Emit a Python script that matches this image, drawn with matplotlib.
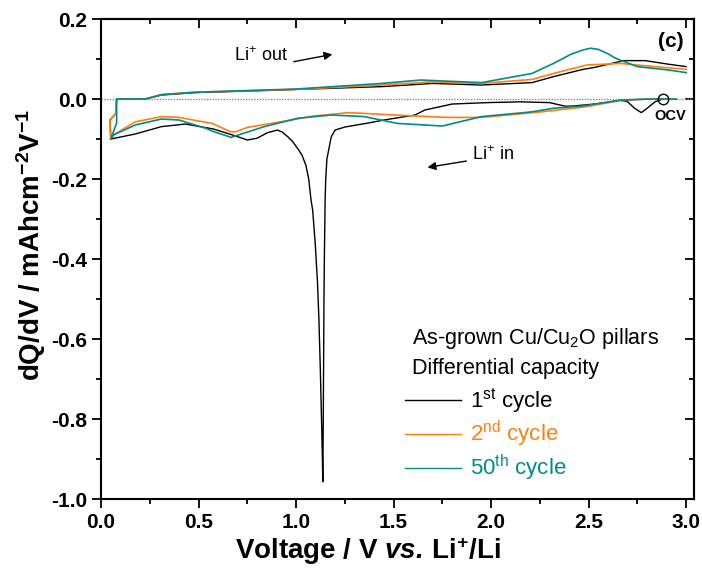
import matplotlib
matplotlib.use("Agg")
import matplotlib.pyplot as plt
from matplotlib.ticker import MultipleLocator
import numpy as np

plt.rcParams['font.family'] = ['Liberation Sans', 'DejaVu Sans']
plt.rcParams['mathtext.fontset'] = 'custom'
plt.rcParams['mathtext.rm'] = 'Liberation Sans'
plt.rcParams['mathtext.it'] = 'Liberation Sans:italic'
plt.rcParams['mathtext.bf'] = 'Liberation Sans:bold'
plt.rcParams['mathtext.bfit'] = 'Liberation Sans:bold:italic'

# 1st cycle: discharge from OCV (lithiation) then charge (delithiation)
c1_dis_v = [2.88, 2.84, 2.80, 2.77, 2.735, 2.70, 2.665, 2.60, 2.53, 2.42, 2.38, 2.30, 2.15, 1.98,
            1.80, 1.66, 1.61, 1.45, 1.37, 1.25, 1.20, 1.18, 1.168, 1.158, 1.152, 1.149, 1.145,
            1.143, 1.140, 1.138, 1.137, 1.135, 1.132, 1.124, 1.117, 1.11, 1.098, 1.085, 1.076,
            1.065, 1.05, 1.03, 1.01, 0.98, 0.957, 0.93, 0.905, 0.854, 0.80, 0.75, 0.70, 0.577,
            0.433, 0.31, 0.175, 0.05]
c1_dis_q = [0.0, -0.007, -0.023, -0.034, -0.023, -0.007, -0.003, -0.008, -0.0125, -0.0175, -0.018,
            -0.009, -0.007, -0.009, -0.0125, -0.0275, -0.04, -0.0525, -0.06, -0.07, -0.0775, -0.095,
            -0.125, -0.15, -0.20, -0.25, -0.40, -0.50, -0.75, -0.90, -0.957, -0.90, -0.835, -0.67,
            -0.55, -0.46, -0.36, -0.2775, -0.25, -0.20, -0.165, -0.14, -0.125, -0.105, -0.094,
            -0.083, -0.0775, -0.084, -0.098, -0.1025, -0.094, -0.075, -0.0625, -0.069, -0.0875,
            -0.10]
c1_chg_v = [0.05, 0.046, 0.076, 0.08, 0.227, 0.31, 0.485, 0.92, 1.0, 1.44, 1.70, 1.95, 2.21, 2.32,
            2.47, 2.53, 2.68, 2.79, 2.91, 3.0]
c1_chg_q = [-0.10, -0.0525, -0.036, 0.0, 0.0, 0.010, 0.016, 0.0225, 0.024, 0.031, 0.039, 0.035,
            0.041, 0.056, 0.074, 0.079, 0.096, 0.096, 0.087, 0.081]

# 2nd cycle
c2_dis_v = [2.95, 2.80, 2.66, 2.49, 2.24, 1.95, 1.78, 1.61, 1.27, 1.09, 0.92, 0.75, 0.69, 0.665,
            0.57, 0.40, 0.31, 0.175, 0.063, 0.05]
c2_dis_q = [0.0, 0.0, -0.004, -0.019, -0.033, -0.046, -0.046, -0.0425, -0.034, -0.0425, -0.057,
            -0.071, -0.082, -0.082, -0.061, -0.046, -0.044, -0.057, -0.09, -0.10]
c2_chg_v = [0.05, 0.046, 0.076, 0.08, 0.227, 0.31, 0.485, 1.0, 1.44, 1.70, 1.95, 2.21, 2.32, 2.49,
            2.66, 2.84, 3.0]
c2_chg_q = [-0.10, -0.0525, -0.036, 0.0, 0.0, 0.011, 0.017, 0.024, 0.035, 0.043, 0.039, 0.049,
            0.064, 0.085, 0.089, 0.081, 0.074]

# 50th cycle
c50_dis_v = [2.95, 2.80, 2.66, 2.47, 2.32, 2.21, 1.95, 1.75, 1.52, 1.35, 1.18, 1.01, 0.837, 0.665,
             0.656, 0.58, 0.536, 0.40, 0.31, 0.175, 0.063, 0.05]
c50_dis_q = [0.0, 0.0, -0.003, -0.0175, -0.023, -0.032, -0.044, -0.0675, -0.061, -0.044, -0.04,
             -0.048, -0.069, -0.096, -0.094, -0.082, -0.073, -0.0525, -0.05, -0.065, -0.09, -0.10]
c50_chg_v = [0.05, 0.08, 0.08, 0.227, 0.31, 0.485, 1.0, 1.44, 1.64, 1.95, 2.21, 2.32, 2.41, 2.47,
             2.51, 2.55, 2.60, 2.63, 2.66, 2.75, 2.91, 3.0]
c50_chg_q = [-0.10, -0.06, 0.0, 0.0, 0.011, 0.017, 0.025, 0.039, 0.0475, 0.041, 0.064, 0.089,
             0.112, 0.1225, 0.127, 0.124, 0.113, 0.104, 0.0975, 0.081, 0.0725, 0.066]

ocv_v, ocv_q = 2.88, 0.0

c_orange = '#ff7f0e'
c_teal = '#008b8b'

fig = plt.figure(figsize=(7.02, 5.73), dpi=100)
ax = fig.add_axes([0.1439, 0.1291, 0.8447, 0.8377])

ax.axhline(0, color='#888888', lw=1, ls=(0, (1, 1)), zorder=1)

ax.plot(c1_dis_v, c1_dis_q, color='black', lw=1, label='1$^{\\mathrm{st}}$ cycle')
ax.plot(c1_chg_v, c1_chg_q, color='black', lw=1)
ax.plot(c2_dis_v, c2_dis_q, color=c_orange, lw=1.2, label='2$^{\\mathrm{nd}}$ cycle')
ax.plot(c2_chg_v, c2_chg_q, color=c_orange, lw=1.2)
ax.plot(c50_dis_v, c50_dis_q, color=c_teal, lw=1.2, label='50$^{\\mathrm{th}}$ cycle')
ax.plot(c50_chg_v, c50_chg_q, color=c_teal, lw=1.2)

ax.plot([ocv_v], [ocv_q], 'o', mfc='none', mec='black', ms=7.5, mew=1)
ax.text(2.92, -0.042, 'OCV', fontsize=10.5, fontweight='bold', ha='center', va='center')
ax.text(2.92, 0.145, '(c)', fontsize=15, fontweight='bold', ha='center', va='center')

ax.text(0.822, 0.1075, 'Li$^{+}$ out', fontsize=13, ha='center', va='center')
ax.annotate('', xy=(1.20, 0.113), xytext=(0.974, 0.092),
            arrowprops=dict(arrowstyle='-|>', color='black', lw=1, mutation_scale=12))
ax.text(2.01, -0.14, 'Li$^{+}$ in', fontsize=13, ha='center', va='center')
ax.annotate('', xy=(1.66, -0.172), xytext=(1.887, -0.154),
            arrowprops=dict(arrowstyle='-|>', color='black', lw=1, mutation_scale=12))

# sample description above the cycle legend
ax.text(0.5245, 0.335, 'As-grown Cu/Cu$_2$O pillars', transform=ax.transAxes,
        fontsize=15.5, ha='left', va='center')
ax.text(0.5245, 0.272, 'Differential capacity', transform=ax.transAxes,
        fontsize=15.5, ha='left', va='center')

leg = ax.legend(loc='lower left', bbox_to_anchor=(0.494, 0.010), frameon=False, fontsize=16,
                handlelength=2.5, handletextpad=0.4, labelspacing=0.17,
                labelcolor='linecolor', borderpad=0)
for h in leg.legend_handles:
    h.set_linewidth(1)

ax.set_xlim(0, 3.04)
ax.set_ylim(-1.0, 0.2)
ax.xaxis.set_major_locator(MultipleLocator(0.5))
ax.xaxis.set_minor_locator(MultipleLocator(0.25))
ax.yaxis.set_major_locator(MultipleLocator(0.2))
ax.yaxis.set_minor_locator(MultipleLocator(0.1))
ax.xaxis.set_major_formatter(plt.FormatStrFormatter('%.1f'))
ax.yaxis.set_major_formatter(plt.FormatStrFormatter('%.1f'))

ax.tick_params(which='both', direction='out', width=1.3, labelsize=15)
ax.tick_params(which='major', length=6.5)
ax.tick_params(which='minor', length=3.6)
for lab in ax.get_xticklabels() + ax.get_yticklabels():
    lab.set_fontweight('bold')
for sp in ax.spines.values():
    sp.set_linewidth(1.5)

# inward ticks on the top and right sides
top = ax.secondary_xaxis('top')
top.xaxis.set_major_locator(MultipleLocator(0.5))
top.xaxis.set_minor_locator(MultipleLocator(0.25))
top.tick_params(which='both', direction='in', width=1.3, labeltop=False)
top.tick_params(which='major', length=6.5)
top.tick_params(which='minor', length=3.6)
right = ax.secondary_yaxis('right')
right.yaxis.set_major_locator(MultipleLocator(0.2))
right.yaxis.set_minor_locator(MultipleLocator(0.1))
right.tick_params(which='both', direction='in', width=1.3, labelright=False)
right.tick_params(which='major', length=6.5)
right.tick_params(which='minor', length=3.6)
for s in (top, right):
    for sp in s.spines.values():
        sp.set_linewidth(1.5)

ax.set_xlabel('$\\mathbf{Voltage\\ /\\ V\\ }\\mathbfit{vs.}\\,\\mathbf{Li^{+}/Li}$', fontsize=20)
ax.set_ylabel('$\\mathbf{dQ/dV\\ /\\ mAhcm^{-2}V^{-1}}$', fontsize=20)
ax.xaxis.set_label_coords(0.451, -0.075)
ax.yaxis.set_label_coords(-0.09, 0.529)

fig.savefig('out.png', dpi=100)
